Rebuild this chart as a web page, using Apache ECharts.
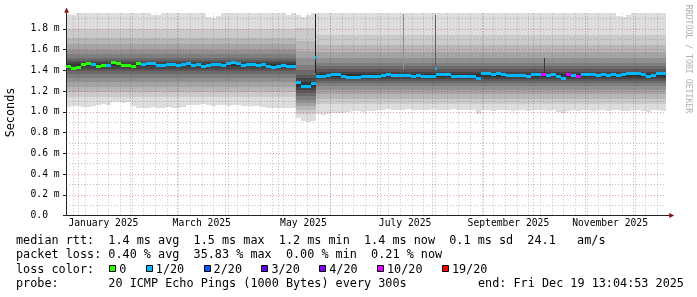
<!DOCTYPE html>
<html><head><meta charset="utf-8">
<script src="https://cdn.jsdelivr.net/npm/echarts@6/dist/echarts.min.js"></script>
<style>html,body{margin:0;padding:0;background:#fff}#c{width:697px;height:297px}</style>
</head><body><div id="c"></div>
<script>
// ---------- data (days counted from 2025-01-01 00:00) ----------
const endDay = 352.545;            // Fri Dec 19 13:04:53 2025
const spanDays = 360;              // "last 360 days"
const firstNodeDay = -7.5;         // consolidated nodes, 3 days each
const nodeStep = 3;

const monthStarts = [0, 31, 59, 90, 120, 151, 181, 212, 243, 273, 304, 334];
const labelDays = [15, 74, 135, 196, 258, 319];
const monthLabels = ['January 2025', 'March 2025', 'May 2025', 'July 2025', 'September 2025', 'November 2025'];
const yMajorTicks = [0, 0.2, 0.4, 0.6, 0.8, 1.0, 1.2, 1.4, 1.6, 1.8];
const yMinorTicks = [0.1, 0.3, 0.5, 0.7, 0.9, 1.1, 1.3, 1.5, 1.7, 1.9];

// median rtt (ms) per node
const medianRtt = [
  1.440,1.417,1.432,1.456,1.462,1.452,1.436,1.450,1.442,1.475,
  1.462,1.450,1.450,1.436,1.462,1.456,1.462,1.462,1.450,1.450,
  1.456,1.456,1.450,1.456,1.462,1.450,1.456,1.436,1.450,1.456,
  1.456,1.450,1.462,1.472,1.462,1.450,1.456,1.456,1.450,1.456,
  1.436,1.424,1.436,1.443,1.436,1.436,1.279,1.247,1.247,1.269,
  1.343,1.343,1.349,1.359,1.359,1.343,1.334,1.334,1.330,1.338,
  1.343,1.343,1.340,1.350,1.359,1.349,1.349,1.353,1.349,1.343,
  1.349,1.343,1.343,1.340,1.359,1.359,1.356,1.343,1.343,1.338,
  1.343,1.340,1.322,1.366,1.366,1.362,1.366,1.362,1.353,1.353,
  1.349,1.353,1.345,1.359,1.359,1.359,1.353,1.359,1.343,1.325,
  1.359,1.353,1.340,1.359,1.356,1.359,1.353,1.356,1.353,1.356,
  1.353,1.359,1.369,1.366,1.369,1.362,1.343,1.349,1.372,1.366
];
// lost pings (of 20) per node
const lossCount = [
  0,0,0,0,0,1,0,0,1,0,
  0,0,0,0,0,1,1,1,1,1,
  1,1,1,1,1,1,1,1,1,1,
  1,1,1,1,1,1,1,1,1,1,
  1,1,1,1,1,1,1,1,1,1,
  1,1,1,1,1,1,1,1,1,1,
  1,1,1,1,1,1,1,1,1,1,
  1,1,1,1,1,1,1,1,1,1,
  1,1,1,1,1,1,1,1,1,1,
  1,1,1,1,1,10,1,1,1,1,
  10,1,10,1,1,1,1,1,1,1,
  1,1,1,1,1,1,1,1,1,1
];
// fastest ping per node (ms)
const smokeMin = [
  1.05,1.055,1.06,1.045,1.05,1.06,1.07,1.075,1.07,1.09,
  1.095,1.085,1.09,1.06,1.04,1.035,1.04,1.045,1.035,1.04,
  1.05,1.04,1.035,1.045,1.07,1.065,1.07,1.075,1.07,1.06,
  1.065,1.07,1.06,1.065,1.07,1.06,1.06,1.055,1.06,1.05,
  1.04,1.035,1.04,1.035,1.04,1.035,0.94,0.91,0.905,0.91,
  0.975,0.97,0.98,0.99,0.985,0.99,0.995,1.005,1.01,1.0,
  1.005,1.01,1.015,1.02,1.025,1.02,1.015,1.02,1.025,1.02,
  1.015,1.02,1.02,1.025,1.02,1.015,1.02,1.025,1.02,1.015,
  1.02,1.02,0.975,1.015,1.02,1.01,1.02,1.015,1.02,1.01,
  1.015,1.02,1.01,1.015,1.02,1.015,1.01,1.015,1.0,0.99,
  1.01,1.02,1.005,1.015,1.02,1.01,1.015,1.02,1.01,1.015,
  1.02,1.005,1.01,1.02,1.015,1.01,1.0,1.015,1.02,1.01
];
// slowest ping per node (ms)
const smokeMax = [
  1.94,1.93,1.97,1.97,1.97,1.97,1.97,1.97,1.97,1.97,
  1.97,1.97,1.97,1.97,1.97,1.97,1.97,1.935,1.935,1.97,
  1.97,1.97,1.97,1.97,1.97,1.97,1.97,1.97,1.91,1.905,
  1.92,1.97,1.97,1.97,1.97,1.97,1.97,1.97,1.97,1.97,
  1.97,1.97,1.97,1.97,1.935,1.97,1.935,1.91,1.935,1.97,
  1.97,1.97,1.97,1.97,1.97,1.97,1.97,1.97,1.97,1.97,
  1.97,1.97,1.97,1.97,1.97,1.97,1.97,1.97,1.97,1.97,
  1.97,1.97,1.97,1.97,1.97,1.97,1.97,1.97,1.97,1.97,
  1.97,1.97,1.97,1.97,1.97,1.97,1.97,1.97,1.97,1.97,
  1.97,1.97,1.97,1.97,1.97,1.97,1.97,1.97,1.97,1.97,
  1.97,1.97,1.97,1.97,1.97,1.97,1.97,1.97,1.97,1.97,
  1.92,1.915,1.935,1.97,1.97,1.97,1.97,1.97,1.97,1.97
];
// sorted ping profiles (20 pings) of the three periods
const periodStartNode = [0, 46, 50];
const pingsEarly = [1.054,1.14,1.19,1.24,1.285,1.325,1.36,1.39,1.415,1.437,1.463,1.478,1.497,1.522,1.555,1.60,1.65,1.71,1.80,1.97];
const pingsDrop  = [0.91,0.98,1.021,1.054,1.086,1.118,1.15,1.18,1.214,1.24,1.285,1.327,1.359,1.407,1.456,1.52,1.585,1.68,1.81,1.97];
const pingsLate  = [1.02,1.075,1.125,1.17,1.21,1.245,1.275,1.30,1.32,1.337,1.365,1.385,1.41,1.44,1.475,1.52,1.575,1.64,1.74,1.97];
// single-day spikes
const spikeDay  = [142.5, 195.3, 214.5, 279.9];
const spikeLow  = [1.37, 1.40, 1.40, 1.37];
const spikeHigh = [1.94, 1.94, 1.93, 1.52];
const spikeMed  = [1.52, NaN, 1.42, NaN];

const lossLevels = [0, 1, 2, 3, 4, 10, 19];
const lossLabels = ['0', '1/20', '2/20', '3/20', '4/20', '10/20', '19/20'];

// ---------- styles ----------
const lossColors = ['#26ff00', '#00b8ff', '#0059ff', '#5e00ff', '#7e00ff', '#dd00ff', '#ff0000'];
const spikeShade = ['#1c1c1c', '#8e8e8e', '#575757', '#3a3a3a'];
const MONO = "'DejaVu Sans Mono', monospace";
const charW = 7.1;

function lossColor(n) {
  for (let k = 0; k < lossLevels.length; k++) if (n <= lossLevels[k]) return lossColors[k];
  return lossColors[lossColors.length - 1];
}

const weekDays = [];
for (let d = -3; d <= endDay; d += 7) weekDays.push(d);

const smokeRows = medianRtt.map((m, i) => {
  const prof = i >= periodStartNode[2] ? pingsLate : (i >= periodStartNode[1] ? pingsDrop : pingsEarly);
  const p = prof.slice(); p[0] = smokeMin[i]; p[19] = smokeMax[i];
  const s = firstNodeDay + nodeStep * i;
  return [s, Math.min(s + nodeStep, endDay)].concat(p);
});
const medianRows = medianRtt.map((m, i) => {
  const s = firstNodeDay + nodeStep * i;
  return [s, Math.min(s + nodeStep, endDay), m, lossCount[i]];
});
const spikeRows = spikeDay.map((d, i) => [d, spikeLow[i], spikeHigh[i], spikeMed[i], i]);

function renderSmoke(params, api) {
  const cs = params.coordSys;
  const x0 = Math.round(api.coord([api.value(0), 0])[0]);
  const x1 = Math.round(api.coord([api.value(1), 0])[0]);
  const top = cs.y, bot = cs.y + cs.height;
  const children = [];
  for (let k = 0; k < 10; k++) {
    const lo = api.value(2 + k), hi = api.value(21 - k);
    let yLo = Math.min(api.coord([0, lo])[1], bot);
    let yHi = Math.max(api.coord([0, hi])[1], top);
    yLo = Math.round(yLo); yHi = Math.round(yHi);
    const g = Math.floor(19 * (9 - k)) + 50;
    children.push({type: 'rect', shape: {x: x0, y: yHi, width: x1 - x0, height: yLo - yHi},
      style: {fill: 'rgb(' + g + ',' + g + ',' + g + ')'}});
  }
  return {type: 'group', children};
}
function renderMedian(params, api) {
  const x0 = Math.round(api.coord([api.value(0), 0])[0]);
  const x1 = Math.round(api.coord([api.value(1), 0])[0]);
  const yc = api.coord([0, api.value(2)])[1];
  return {type: 'rect', shape: {x: x0, y: Math.round(yc - 1.5), width: x1 - x0, height: 3},
    style: {fill: lossColor(api.value(3))}};
}
function renderSpike(params, api) {
  const cs = params.coordSys;
  const x = Math.floor(api.coord([api.value(0), 0])[0]);
  const yLo = Math.round(api.coord([0, api.value(1)])[1]);
  const yHi = Math.round(Math.max(api.coord([0, api.value(2)])[1], cs.y));
  const children = [{type: 'rect', shape: {x: x, y: yHi, width: 1, height: yLo - yHi},
    style: {fill: spikeShade[api.value(4)]}}];
  const med = api.value(3);
  if (!isNaN(med)) {
    const ym = api.coord([0, med])[1];
    children.push({type: 'rect', shape: {x: x, y: Math.round(ym - 1.5), width: 2, height: 3},
      style: {fill: lossColors[1]}});
  }
  return {type: 'group', children};
}

// ---------- graphic (legend & decorations) ----------
const textStyle = (t, size, color) => ({text: t, font: size + 'px ' + MONO, fill: color || '#000',
  align: 'left', verticalAlign: 'middle', textAlign: 'left', textVerticalAlign: 'middle'});
const graphics = [
  {type: 'polygon', shape: {points: [[64.2, 12.8], [69, 12.8], [66.6, 7.6]]}, style: {fill: '#8b1010'}},
  {type: 'polygon', shape: {points: [[669.2, 213], [669.2, 218], [674.2, 215.5]]}, style: {fill: '#8b1010'}},
  {type: 'line', shape: {x1: 666, y1: 215.5, x2: 669.5, y2: 215.5}, style: {stroke: '#222', lineWidth: 1}},
  {type: 'text', x: 10.5, y: 112.5, rotation: Math.PI / 2,
    style: Object.assign(textStyle('Seconds', 11.8), {align: 'center', textAlign: 'center'})},
  {type: 'text', x: 688, y: 59, rotation: -Math.PI / 2,
    style: Object.assign(textStyle('RRDTOOL / TOBI OETIKER', 8.2, '#b0b0b0'), {align: 'center', textAlign: 'center'})},
  {type: 'text', x: 16, y: 241, style: textStyle('median rtt:  1.4 ms avg  1.5 ms max  1.2 ms min  1.4 ms now  0.1 ms sd  24.1   am/s', 11.8)},
  {type: 'text', x: 16, y: 255.3, style: textStyle('packet loss: 0.40 % avg  35.83 % max  0.00 % min  0.21 % now', 11.8)},
  {type: 'text', x: 16, y: 269.5, style: textStyle('loss color:', 11.8)},
  {type: 'text', x: 16, y: 283.8, style: textStyle('probe:       20 ICMP Echo Pings (1000 Bytes) every 300s', 11.8)},
  {type: 'text', x: 478, y: 283.8, style: textStyle('end: Fri Dec 19 13:04:53 2025', 11.8)}
];
let bx = 109.3;
lossLabels.forEach((lab, k) => {
  const rx = Math.round(bx) + 0.5;
  graphics.push({type: 'rect', shape: {x: rx, y: 265.5, width: 6, height: 6},
    style: {fill: lossColors[k], stroke: '#000', lineWidth: 1}});
  graphics.push({type: 'text', x: bx + 10, y: 269.5, style: textStyle(lab, 11.8)});
  bx += 10 + lab.length * charW + 19.4;
});

const majorGrid = {show: true, lineStyle: {color: 'rgba(190,40,40,0.42)', type: [1, 2], width: 1}};
const minorGrid = {show: true, lineStyle: {color: 'rgba(120,120,120,0.45)', type: [1, 2], width: 1}};

const chart = echarts.init(document.getElementById('c'), null, {renderer: 'canvas'});
chart.setOption({
  animation: false,
  backgroundColor: '#fff',
  grid: {left: 66, right: 31, top: 13.3, bottom: 81.5, containLabel: false, outerBoundsMode: 'none'},
  xAxis: [{
    type: 'value', min: endDay - spanDays, max: endDay, position: 'bottom', z: 3,
    axisLine: {show: true, onZero: false, lineStyle: {color: '#222', width: 1}},
    axisTick: {show: false, customValues: monthStarts},
    axisLabel: {show: true, customValues: labelDays, margin: 3, fontFamily: MONO, fontSize: 9.7, color: '#000',
      formatter: v => { const j = labelDays.findIndex(d => Math.abs(d - v) < 0.01); return j >= 0 ? monthLabels[j] : ''; }},
    splitLine: majorGrid
  }, {
    type: 'value', min: endDay - spanDays, max: endDay, position: 'bottom', z: 3,
    axisLine: {show: false, onZero: false}, axisLabel: {show: false},
    axisTick: {show: false, customValues: weekDays},
    splitLine: minorGrid
  }],
  yAxis: [{
    type: 'value', min: 0, max: 1.95, position: 'left', z: 3,
    axisLine: {show: true, onZero: false, lineStyle: {color: '#222', width: 1}},
    axisTick: {show: true, customValues: yMajorTicks, length: 3, lineStyle: {color: '#222'}},
    axisLabel: {show: true, customValues: yMajorTicks, align: 'left', margin: 35.5, fontFamily: MONO, fontSize: 9.7, color: '#000',
      formatter: v => v === 0 ? '0.0' : v.toFixed(1) + ' m'},
    splitLine: majorGrid
  }, {
    type: 'value', min: 0, max: 1.95, position: 'left', z: 3,
    axisLine: {show: false, onZero: false}, axisLabel: {show: false},
    axisTick: {show: false, customValues: yMinorTicks},
    splitLine: minorGrid
  }],
  series: [
    {type: 'custom', name: 'smoke', z: 1, renderItem: renderSmoke, data: smokeRows, encode: {x: 0, y: 2}, silent: true},
    {type: 'custom', name: 'spikes', z: 1, renderItem: renderSpike, data: spikeRows, encode: {x: 0, y: 1}, silent: true},
    {type: 'custom', name: 'median', z: 5, renderItem: renderMedian, data: medianRows, encode: {x: 0, y: 2}, silent: true}
  ],
  graphic: graphics
});
</script>
</body></html>
